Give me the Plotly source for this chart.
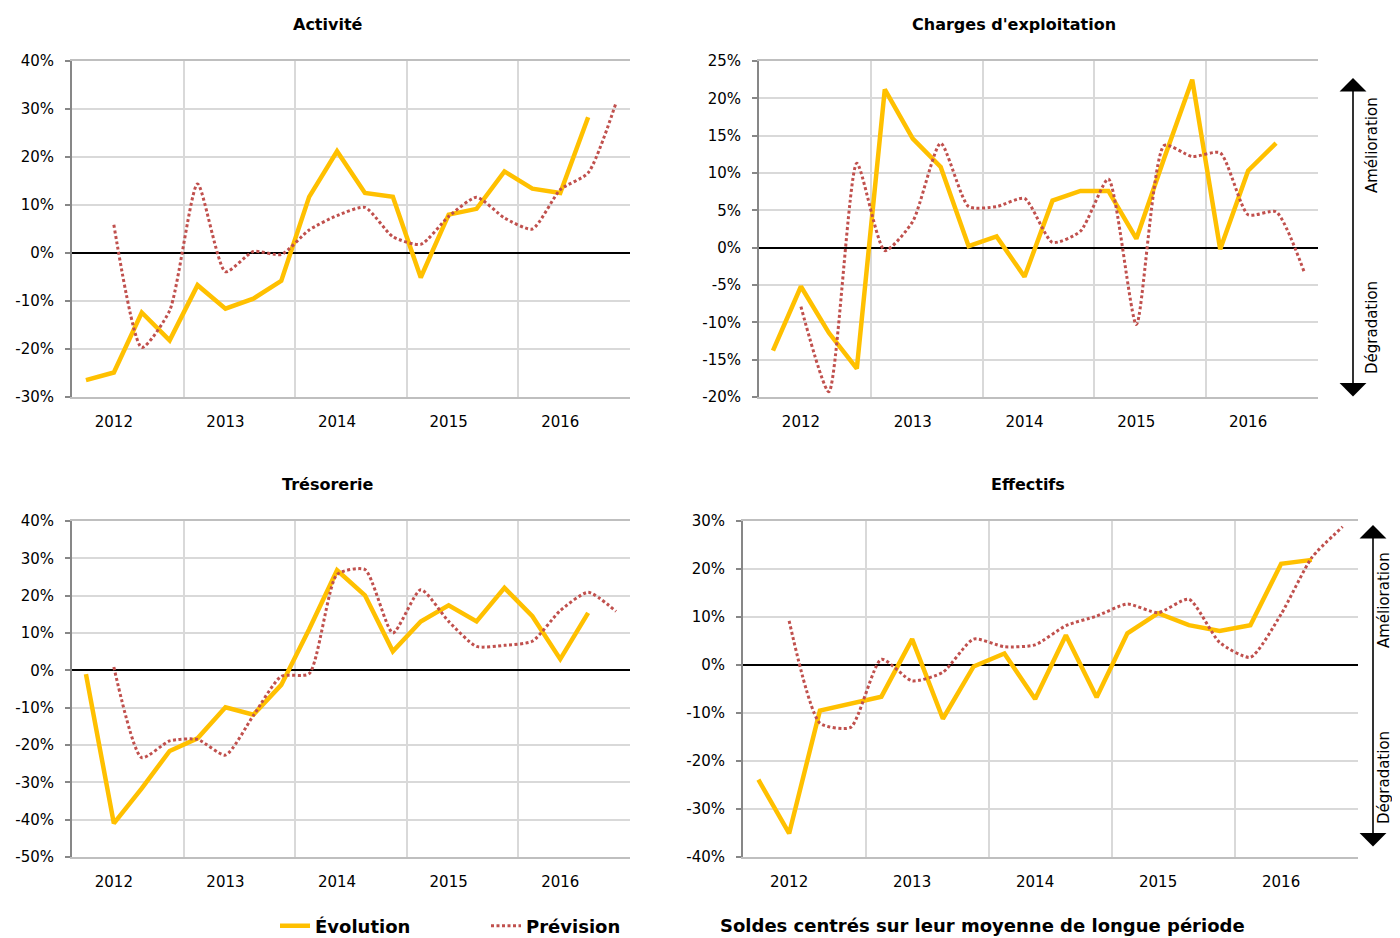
import plotly.graph_objects as go

# ---------------- data ----------------
periods = ["T4 2011", "T1 2012", "T2 2012", "T3 2012", "T4 2012",
           "T1 2013", "T2 2013", "T3 2013", "T4 2013",
           "T1 2014", "T2 2014", "T3 2014", "T4 2014",
           "T1 2015", "T2 2015", "T3 2015", "T4 2015",
           "T1 2016", "T2 2016", "T3 2016"]
years = ["2012", "2013", "2014", "2015", "2016"]
year_idx = [1, 5, 9, 13, 17]

act_evo = [-26.5, -24.9, -12.4, -18.2, -6.7, -11.6, -9.5, -5.8, 11.7, 21.2,
           12.5, 11.7, -5.1, 8.0, 9.2, 17.0, 13.4, 12.5, 28.3, None]
act_prev = [None, 5.9, -19.7, -12.0, 14.4, -3.9, 0.3, -0.3, 4.8, 7.8,
            9.5, 3.4, 1.8, 7.6, 11.6, 7.3, 5.0, 13.2, 16.7, 31.3]
chg_evo = [-13.8, -5.2, -11.4, -16.2, 21.2, 14.6, 10.8, 0.2, 1.5, -3.9,
           6.3, 7.6, 7.6, 1.2, 12.0, 22.5, -0.2, 10.3, 14.0, None]
chg_prev = [None, -7.9, -19.3, 11.3, -0.4, 3.5, 14.0, 5.5, 5.5, 6.6,
            0.7, 2.2, 9.2, -10.3, 13.7, 12.2, 12.7, 4.4, 4.8, -3.2]
tres_evo = [-1.0, -41.0, -31.6, -21.6, -18.2, -9.9, -11.9, -3.9, 11.0, 26.8,
            20.1, 5.1, 13.1, 17.4, 13.1, 22.1, 14.5, 3.0, 15.4, None]
tres_prev = [None, 0.9, -23.4, -18.9, -18.5, -22.7, -12.1, -1.6, -0.9, 25.7,
             27.0, 10.0, 21.6, 13.1, 6.4, 6.7, 7.8, 16.0, 20.9, 15.8]
eff_evo = [-23.9, -35.1, -9.5, -8.0, -6.6, 5.4, -11.2, -0.3, 2.4, -7.1,
           6.2, -6.7, 6.6, 10.8, 8.3, 7.1, 8.3, 21.1, 21.9, None]
eff_prev = [None, 9.2, -12.1, -13.0, 1.2, -3.3, -1.5, 5.4, 3.8, 4.2,
            8.2, 10.2, 12.7, 10.9, 13.7, 4.7, 1.6, 10.6, 22.4, 28.8]

titles = ["Activité", "Charges d'exploitation", "Trésorerie", "Effectifs"]
yticks_act = [-30, -20, -10, 0, 10, 20, 30, 40]
yticks_chg = [-20, -15, -10, -5, 0, 5, 10, 15, 20, 25]
yticks_tres = [-50, -40, -30, -20, -10, 0, 10, 20, 30, 40]
yticks_eff = [-40, -30, -20, -10, 0, 10, 20, 30]

series_names = ["Évolution", "Prévision"]
note = "Soldes centrés sur leur moyenne de longue période"

# ---------------- style ----------------
PAGE_OFF = 8            # default body margin of the html page
W, H = 1400 - PAGE_OFF, 938 - PAGE_OFF
YELLOW = "#FFC000"
RED = "#C0504D"
GRID = "#D9D9D9"
FONT = "DejaVu Sans"

def px_x(v):
    return (v - PAGE_OFF) / W

def px_y(v):
    return 1 - (v - PAGE_OFF) / H

panels = [
    dict(data=(act_evo, act_prev), yt=yticks_act, xd=(72, 630), yd=(61, 397), title_xy=(328, 24)),
    dict(data=(chg_evo, chg_prev), yt=yticks_chg, xd=(759, 1318), yd=(61, 397), title_xy=(1014, 24)),
    dict(data=(tres_evo, tres_prev), yt=yticks_tres, xd=(72, 630), yd=(521, 857), title_xy=(328, 484)),
    dict(data=(eff_evo, eff_prev), yt=yticks_eff, xd=(743, 1358), yd=(521, 857), title_xy=(1028, 484)),
]

x = list(range(len(periods)))
fig = go.Figure()
layout = {}
annotations = []

for k, p in enumerate(panels):
    sfx = "" if k == 0 else str(k + 1)
    xa, ya = "x" + sfx, "y" + sfx
    evo, prev = p["data"]
    fig.add_trace(go.Scatter(
        x=x, y=evo, xaxis=xa, yaxis=ya, mode="lines", name=series_names[0],
        customdata=periods, hovertemplate="%{customdata}: %{y}%<extra></extra>",
        line=dict(color=YELLOW, width=4.5), legend="legend", showlegend=(k == 0),
    ))
    fig.add_trace(go.Scatter(
        x=x, y=prev, xaxis=xa, yaxis=ya, mode="lines", name=series_names[1],
        customdata=periods, hovertemplate="%{customdata}: %{y}%<extra></extra>",
        line=dict(color=RED, width=3, dash="3px,2.5px", shape="spline", smoothing=0.6),
        legend="legend2", showlegend=(k == 0),
    ))
    yt = p["yt"]
    layout["xaxis" + sfx] = dict(
        domain=[px_x(p["xd"][0]), px_x(p["xd"][1])], anchor=ya,
        range=[-0.5, len(periods) - 0.5],
        tickmode="array", tickvals=year_idx, ticktext=years,
        showgrid=False, zeroline=False, ticks="",
        showline=True, linecolor="#BFBFBF", linewidth=2, mirror=True,
        ticklabelstandoff=10, automargin=False,
        minor=dict(tick0=3.5, dtick=4, showgrid=True, gridcolor=GRID, gridwidth=2, ticks=""),
        tickfont=dict(family=FONT, size=15, color="#000"),
        fixedrange=True,
    )
    layout["yaxis" + sfx] = dict(
        domain=[px_y(p["yd"][1]), px_y(p["yd"][0])], anchor=xa,
        range=[yt[0], yt[-1]],
        tickmode="array", tickvals=yt, ticktext=[f"{v}%" for v in yt],
        showgrid=True, gridcolor=GRID, gridwidth=2,
        zeroline=True, zerolinecolor="#000", zerolinewidth=2,
        showline=True, linecolor="#878787", linewidth=2,
        ticks="outside", ticklen=5, tickwidth=2, tickcolor="#878787",
        ticklabelstandoff=8, automargin=False,
        tickfont=dict(family=FONT, size=15, color="#000"),
        fixedrange=True,
    )
    tx, ty = p["title_xy"]
    annotations.append(dict(
        text=titles[k], x=px_x(tx), y=px_y(ty), xref="paper", yref="paper",
        showarrow=False, xanchor="center", yanchor="middle",
        font=dict(family=FONT, size=16, color="#000", weight="bold"),
    ))

# right-side direction arrows
for (ax_x, top, bot, tx, y_up, y_down) in [(1353, 78, 398, 1372, 145, 328),
                                          (1373, 525, 848, 1384, 600, 778)]:
    annotations.append(dict(
        x=px_x(ax_x), y=px_y(top), xref="paper", yref="paper", text="",
        showarrow=True, ax=0, ay=bot - top, axref="pixel", ayref="pixel",
        arrowside="end+start", arrowhead=1, arrowsize=2.8, arrowwidth=1.6,
        arrowcolor="#000", standoff=0, startstandoff=0,
    ))
    annotations.append(dict(
        text="Amélioration", x=px_x(tx), y=px_y(y_up), xref="paper", yref="paper",
        showarrow=False, textangle=-90, xanchor="center", yanchor="middle",
        font=dict(family=FONT, size=15, color="#000"),
    ))
    annotations.append(dict(
        text="Dégradation", x=px_x(tx), y=px_y(y_down), xref="paper", yref="paper",
        showarrow=False, textangle=-90, xanchor="center", yanchor="middle",
        font=dict(family=FONT, size=15, color="#000"),
    ))

annotations.append(dict(
    text=note, x=px_x(982), y=px_y(925), xref="paper", yref="paper",
    showarrow=False, xanchor="center", yanchor="middle",
    font=dict(family=FONT, size=18, color="#000", weight="bold"),
))

legend_font = dict(family=FONT, size=18, color="#000", weight="bold")
fig.update_layout(
    width=W, height=H,
    margin=dict(l=0, r=0, t=0, b=0, pad=0, autoexpand=False),
    paper_bgcolor="white", plot_bgcolor="white",
    annotations=annotations,
    legend=dict(x=px_x(275), y=px_y(926), xanchor="left", yanchor="middle",
                orientation="h", font=legend_font, bgcolor="rgba(0,0,0,0)"),
    legend2=dict(x=px_x(486), y=px_y(926), xanchor="left", yanchor="middle",
                 orientation="h", font=legend_font, bgcolor="rgba(0,0,0,0)"),
    **layout,
)

fig.write_html("out.html")
